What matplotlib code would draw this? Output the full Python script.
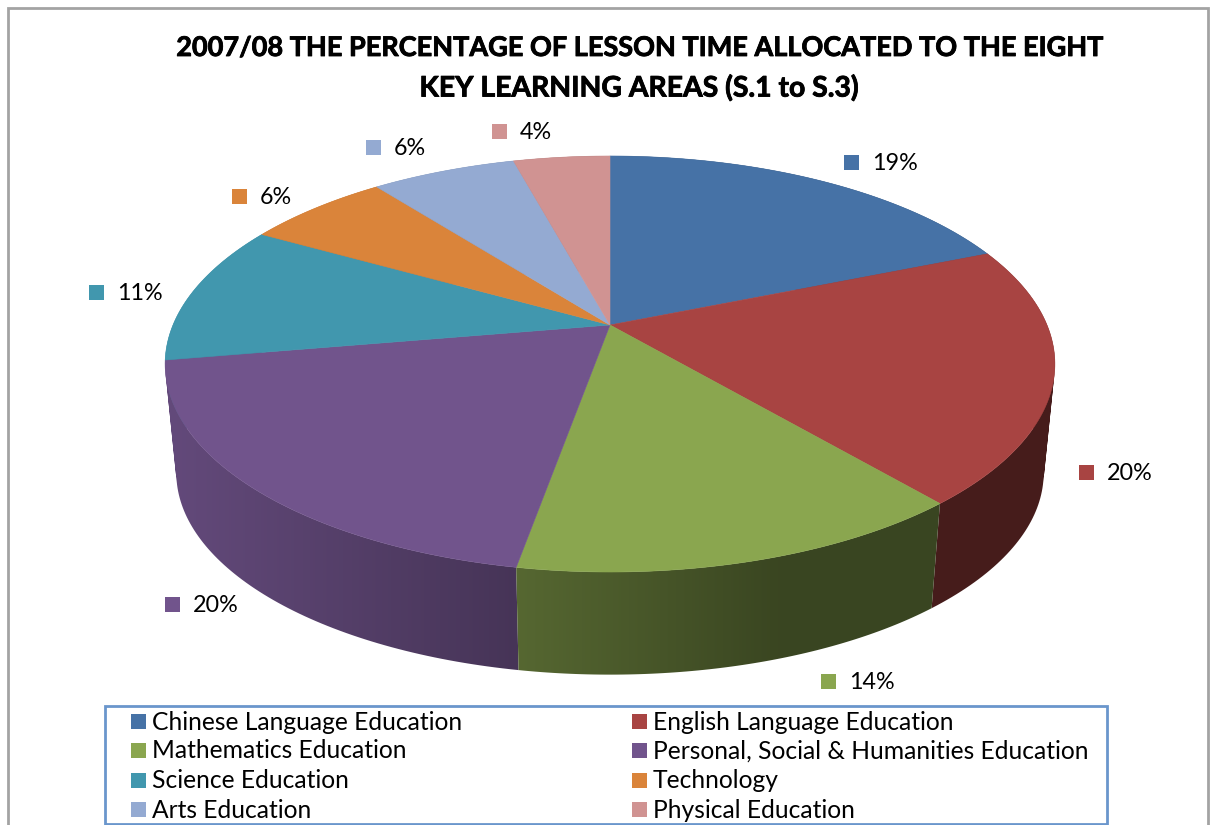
import numpy as np
import matplotlib
matplotlib.use('Agg')
import matplotlib.pyplot as plt
from matplotlib.patches import PathPatch, Polygon, Rectangle
from matplotlib.path import Path
from matplotlib import patheffects

plt.rcParams['font.family'] = ['Lato', 'DejaVu Sans']

title_lines = ['2007/08 THE PERCENTAGE OF LESSON TIME ALLOCATED TO THE EIGHT',
               'KEY LEARNING AREAS (S.1 to S.3)']
areas = ['Chinese Language Education', 'English Language Education', 'Mathematics Education',
         'Personal, Social & Humanities Education', 'Science Education', 'Technology',
         'Arts Education', 'Physical Education']
values = [18.8, 20.0, 14.0, 19.5, 10.9, 6.3, 6.3, 4.2]
colors = ['#4672a6', '#a84442', '#8aa64f', '#71548c', '#4197ae', '#da843a', '#94aad2', '#d09392']

# where the value labels sit (left edge of the square, middle of the text)
label_pos = [(844, 162), (1079, 472), (821, 681), (165, 604), (89, 292), (232, 196), (366, 147), (492, 131)]

W, H = 1210, 825


def project(angle, cx, cy, a, b, k=-0.1875):
    # circle seen in perspective, angle runs clockwise from the top
    u, w = np.sin(angle), -np.cos(angle)
    d = 1 + k * w
    return np.column_stack([cx + a * u / d, cy + b * w / d])


def top_rim(angle):
    return project(angle, 610, 325, 437, 200.7)


def bottom_rim(angle):
    return project(angle, 610, 435, 426, 194.7)


def wall_path(ang):
    # wall as little quads all wound the same way, the rims cross near the sides
    t, b = top_rim(ang), bottom_rim(ang)
    verts, codes = [], []
    for j in range(len(ang) - 1):
        q = np.array([t[j], t[j + 1], b[j + 1], b[j]])
        x, y = q[:, 0], q[:, 1]
        area = np.sum(x * np.roll(y, -1) - np.roll(x, -1) * y)
        if area < 0:
            q = q[::-1]
        verts += list(q) + [q[0]]
        codes += [Path.MOVETO, Path.LINETO, Path.LINETO, Path.LINETO, Path.CLOSEPOLY]
    return Path(np.array(verts), codes)


fig = plt.figure(figsize=(W / 100, H / 100), dpi=100)
ax = fig.add_axes([0, 0, 1, 1])

# chart frame, runs off the bottom of the picture
ax.plot([8, 8, 1208, 1208], [H, 8, 8, H], color='#a3a3a3', lw=2, solid_joinstyle='miter')

edges = np.cumsum([0] + values) / sum(values) * 2 * np.pi

# side wall: horizontal light to dark gradient clipped to each slice, back to front
xs = np.arange(W) + 0.5
light = np.interp(xs, [165, 520, 780, 1050], [0.88, 0.62, 0.42, 0.42])
order = np.argsort([-np.cos((edges[i] + edges[i + 1]) / 2) for i in range(len(values))])
for i in order:
    ang = np.linspace(edges[i], edges[i + 1], 80)
    rgb = np.array(matplotlib.colors.to_rgb(colors[i]))
    grad = (light[:, None] * rgb)[None, :, :]
    outline = PathPatch(wall_path(ang), facecolor='none', edgecolor='none', transform=ax.transData)
    ax.add_patch(outline)
    im = ax.imshow(grad, extent=[0, W, H, 0], aspect='auto', interpolation='nearest', zorder=1.5)
    im.set_clip_path(outline)

# top face
for i, color in enumerate(colors):
    ang = np.linspace(edges[i], edges[i + 1], 80)
    pts = np.vstack([[610, 325], top_rim(ang)])
    ax.add_patch(Polygon(pts, closed=True, facecolor=color, edgecolor=color, lw=0.4, zorder=2))

for line, y, size in zip(title_lines, [48, 88], [19.5, 20.4]):
    ax.text(639, y, line, ha='center', va='center', fontsize=size, fontweight='bold',
            color='black', path_effects=[patheffects.withStroke(linewidth=0.6, foreground='black')])

for (x, y), v, color in zip(label_pos, values, colors):
    ax.add_patch(Rectangle((x, y - 7.5), 15, 15, facecolor=color, edgecolor='none'))
    ax.text(x + 28, y + 1.5, '%.0f%%' % v, ha='left', va='center', fontsize=16.8, color='black')

# legend box
ax.add_patch(Rectangle((105, 706), 1002, 118, facecolor='white', edgecolor='#6a96cc', lw=2, zorder=2))
rows = [721.5, 750.5, 780, 809.5]
for i, (name, color) in enumerate(zip(areas, colors)):
    sx = 131 if i % 2 == 0 else 632
    y = rows[i // 2]
    ax.add_patch(Rectangle((sx, y - 7.5), 15, 15, facecolor=color, edgecolor='none', zorder=3))
    ax.text(sx + 21, y + 0.5, name, ha='left', va='center', fontsize=17.7, color='black', zorder=3)

ax.set_xlim(0, W)
ax.set_ylim(H, 0)
ax.axis('off')

fig.savefig('out.png', dpi=100)
